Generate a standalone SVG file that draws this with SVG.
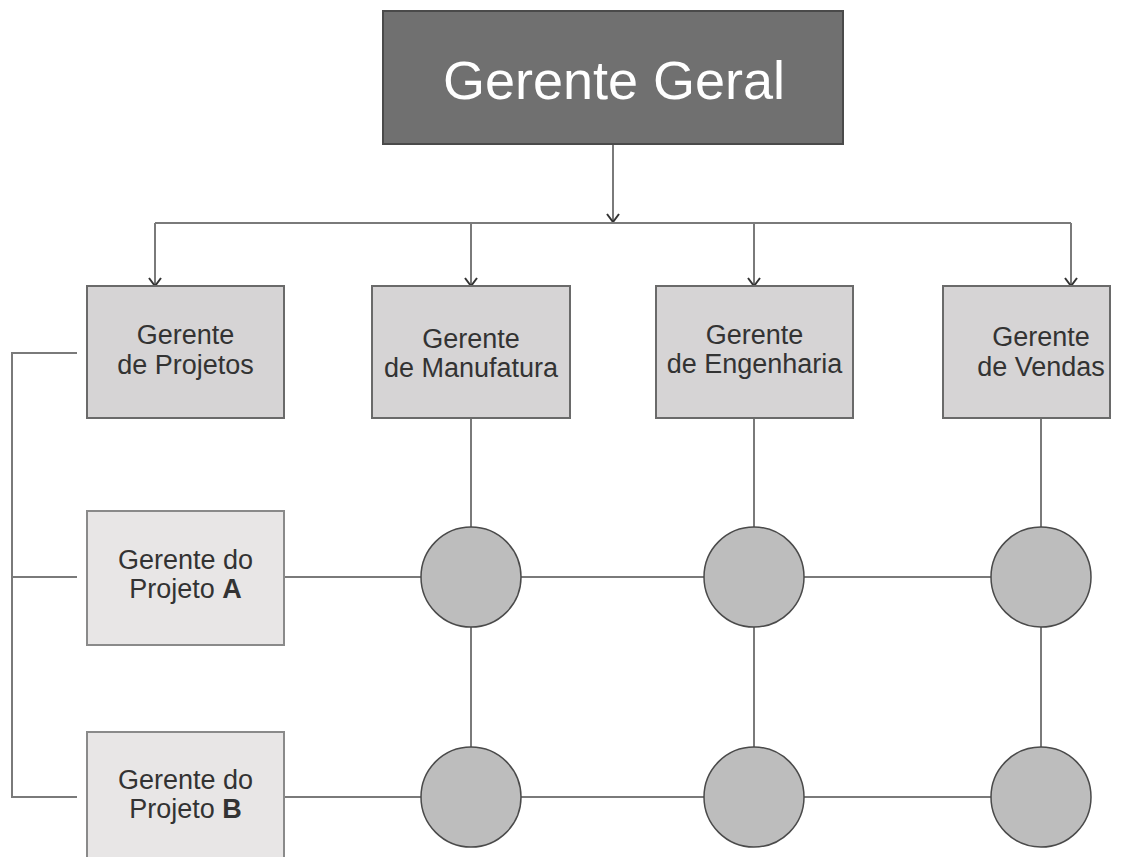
<svg xmlns="http://www.w3.org/2000/svg" width="1126" height="857" viewBox="0 0 1126 857">
  <defs>
    <!-- open chevron arrowhead, pointing along the line direction -->
    <marker id="arrow" viewBox="0 0 10 14" refX="9" refY="7" markerWidth="10" markerHeight="14" markerUnits="userSpaceOnUse" orient="auto">
      <path d="M1,1 L9,7 L1,13" fill="none" stroke="#333" stroke-width="2"/>
    </marker>
    <style>
      .line { stroke: #7a7a7a; stroke-width: 2; fill: none; }
      .top { fill: #707070; stroke: #4a4a4a; stroke-width: 2; }
      .dept { fill: #d6d4d5; stroke: #6a6a6a; stroke-width: 2; }
      .proj { fill: #e8e6e6; stroke: #8a8a8a; stroke-width: 2; }
      .node { fill: #bdbdbd; stroke: #4a4a4a; stroke-width: 1.5; }
      .label { font-family: "Liberation Sans", Arial, sans-serif; font-size: 27px; fill: #333; text-anchor: middle; }
      .title { font-family: "Liberation Sans", Arial, sans-serif; font-size: 54px; fill: #fff; text-anchor: middle; }
    </style>
  </defs>

  <rect width="1126" height="857" fill="#fff"/>

  <!-- connectors -->
  <g id="connectors">
    <line class="line" x1="613" y1="144" x2="613" y2="222" marker-end="url(#arrow)"/>
    <line class="line" x1="155" y1="223" x2="1071" y2="223"/>
    <line class="line" x1="155" y1="223" x2="155" y2="286" marker-end="url(#arrow)"/>
    <line class="line" x1="471" y1="223" x2="471" y2="286" marker-end="url(#arrow)"/>
    <line class="line" x1="754" y1="223" x2="754" y2="286" marker-end="url(#arrow)"/>
    <line class="line" x1="1071" y1="223" x2="1071" y2="286" marker-end="url(#arrow)"/>
    <!-- project bracket -->
    <polyline class="line" points="77,353 12,353 12,797 77,797"/>
    <line class="line" x1="12" y1="577" x2="77" y2="577"/>
    <!-- matrix grid -->
    <line class="line" x1="284" y1="577" x2="1041" y2="577"/>
    <line class="line" x1="284" y1="797" x2="1041" y2="797"/>
    <line class="line" x1="471" y1="418" x2="471" y2="797"/>
    <line class="line" x1="754" y1="418" x2="754" y2="797"/>
    <line class="line" x1="1041" y1="418" x2="1041" y2="797"/>
  </g>

  <g id="gerente-geral">
    <rect class="top" x="383" y="11" width="460" height="133"/>
    <text class="title" x="614" y="99">Gerente Geral</text>
  </g>

  <g id="gerente-projetos">
    <rect class="dept" x="87" y="286" width="197" height="132"/>
    <text class="label" x="185.5" y="344">Gerente</text>
    <text class="label" x="185.5" y="374">de Projetos</text>
  </g>

  <g id="gerente-manufatura">
    <rect class="dept" x="372" y="286" width="198" height="132"/>
    <text class="label" x="471" y="348">Gerente</text>
    <text class="label" x="471" y="377">de Manufatura</text>
  </g>

  <g id="gerente-engenharia">
    <rect class="dept" x="656" y="286" width="197" height="132"/>
    <text class="label" x="754.5" y="344">Gerente</text>
    <text class="label" x="754.5" y="373">de Engenharia</text>
  </g>

  <g id="gerente-vendas">
    <rect class="dept" x="943" y="286" width="167" height="132"/>
    <text class="label" x="1041" y="346">Gerente</text>
    <text class="label" x="1041" y="376">de Vendas</text>
  </g>

  <g id="projeto-a">
    <rect class="proj" x="87" y="511" width="197" height="134"/>
    <text class="label" x="185.5" y="569">Gerente do</text>
    <text class="label" x="185.5" y="598">Projeto <tspan font-weight="bold">A</tspan></text>
  </g>

  <g id="projeto-b">
    <rect class="proj" x="87" y="732" width="197" height="134"/>
    <text class="label" x="185.5" y="789">Gerente do</text>
    <text class="label" x="185.5" y="818">Projeto <tspan font-weight="bold">B</tspan></text>
  </g>

  <g id="a-manufatura"><circle class="node" cx="471" cy="577" r="50"/></g>
  <g id="a-engenharia"><circle class="node" cx="754" cy="577" r="50"/></g>
  <g id="a-vendas"><circle class="node" cx="1041" cy="577" r="50"/></g>
  <g id="b-manufatura"><circle class="node" cx="471" cy="797" r="50"/></g>
  <g id="b-engenharia"><circle class="node" cx="754" cy="797" r="50"/></g>
  <g id="b-vendas"><circle class="node" cx="1041" cy="797" r="50"/></g>
</svg>
